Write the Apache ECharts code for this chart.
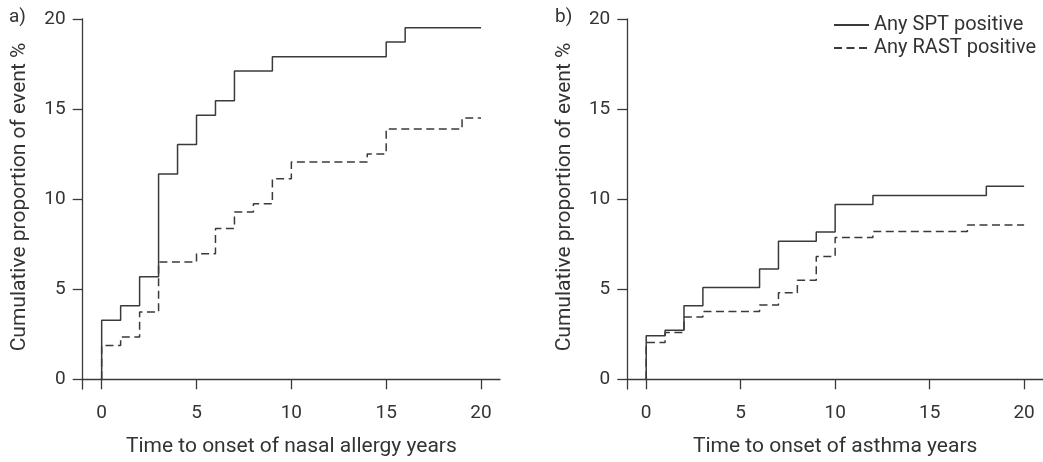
<!DOCTYPE html>
<html>
<head>
<meta charset="utf-8">
<script src="https://cdn.jsdelivr.net/npm/echarts@6/dist/echarts.min.js"></script>
<style>
html,body{margin:0;padding:0;background:#fff;}
#chart{width:1043px;height:462px;}
</style>
</head>
<body>
<div id="chart"></div>
<script>
// Panel a) nasal allergy
const aSptTimes = [0, 0, 1, 2, 3, 4, 5, 6, 7, 9, 15, 16, 20];
const aSptValues = [0, 3.27, 4.08, 5.69, 11.40, 13.03, 14.65, 15.46, 17.11, 17.91, 18.72, 19.52, 19.52];
const aRastTimes = [0, 0, 1, 2, 3, 5, 6, 7, 8, 9, 10, 14, 15, 19, 20];
const aRastValues = [0, 1.87, 2.35, 3.73, 6.51, 6.97, 8.37, 9.29, 9.74, 11.13, 12.06, 12.51, 13.90, 14.51, 14.51];
// Panel b) asthma
const bSptTimes = [0, 0, 1, 2, 3, 6, 7, 9, 10, 12, 18, 20];
const bSptValues = [0, 2.42, 2.72, 4.08, 5.10, 6.12, 7.66, 8.18, 9.70, 10.20, 10.72, 10.72];
const bRastTimes = [0, 0, 1, 2, 3, 6, 7, 8, 9, 10, 12, 17, 20];
const bRastValues = [0, 2.04, 2.60, 3.46, 3.76, 4.12, 4.80, 5.50, 6.82, 7.87, 8.21, 8.56, 8.56];

const xTicks = [0, 5, 10, 15, 20];
const yTicks = [0, 5, 10, 15, 20];
const seriesNames = ['Any SPT positive', 'Any RAST positive'];
const xTitles = ['Time to onset of nasal allergy years', 'Time to onset of asthma years'];
const yTitle = 'Cumulative proportion of event %';
const panelLabels = ['a)', 'b)'];

const FONT = 'Roboto';
const TXT = '#333';
const LINE = '#3a3a3a';

function pairs(t, v) { return t.map((x, i) => [x, v[i]]); }

function xAxis(i, title) {
  return {
    type: 'value', gridIndex: i, min: -1, max: 21,
    axisLine: { show: true, onZero: true, lineStyle: { color: LINE, width: 1.3 } },
    axisTick: { show: true, length: 10, customValues: xTicks, lineStyle: { color: LINE, width: 1.3 } },
    axisLabel: { customValues: xTicks, color: TXT, fontFamily: FONT, fontSize: 19, margin: 15 },
    splitLine: { show: false },
    name: title, nameLocation: 'middle', nameGap: 47,
    nameTextStyle: { color: TXT, fontFamily: FONT, fontSize: 21 }
  };
}
function yAxis(i) {
  return {
    type: 'value', gridIndex: i, min: -0.54, max: 20,
    axisLine: { show: true, onZero: false, lineStyle: { color: LINE, width: 1.3 } },
    axisTick: { show: true, length: 10, customValues: yTicks, lineStyle: { color: LINE, width: 1.3 } },
    axisLabel: { customValues: yTicks, color: TXT, fontFamily: FONT, fontSize: 19, margin: 17 },
    splitLine: { show: false },
    name: yTitle, nameLocation: 'middle', nameGap: 52, nameRotate: 90,
    nameTextStyle: { color: TXT, fontFamily: FONT, fontSize: 21, padding: [0, 0, 0, 14] }
  };
}
function stepSeries(name, idx, t, v, dashed) {
  return {
    name: name, type: 'line', step: 'end', xAxisIndex: idx, yAxisIndex: idx,
    data: pairs(t, v), symbol: 'none', showSymbol: false, silent: true,
    lineStyle: { color: LINE, width: 1.5, type: dashed ? [8, 4.5] : 'solid' },
    itemStyle: { color: LINE }
  };
}

const chart = echarts.init(document.getElementById('chart'), null, { renderer: 'canvas' });
chart.setOption({
  animation: false,
  backgroundColor: '#fff',
  grid: [
    { left: 82.7, right: 543, top: 19, bottom: 60.3 },
    { left: 627.3, right: -2.3, top: 19, bottom: 60.3 }
  ],
  xAxis: [xAxis(0, xTitles[0]), xAxis(1, xTitles[1])],
  yAxis: [yAxis(0), yAxis(1)],
  legend: {
    data: seriesNames, orient: 'vertical', left: 828, top: 10,
    itemWidth: 35, itemHeight: 14, itemGap: 3,
    itemStyle: { opacity: 0 },
    selectedMode: false,
    textStyle: { color: TXT, fontFamily: FONT, fontSize: 20, lineHeight: 20 }
  },
  graphic: [
    { type: 'text', left: 9, top: 8, style: { text: panelLabels[0], fill: TXT, font: '19px ' + FONT } },
    { type: 'text', left: 555, top: 8, style: { text: panelLabels[1], fill: TXT, font: '19px ' + FONT } }
  ],
  series: [
    stepSeries(seriesNames[0], 0, aSptTimes, aSptValues, false),
    stepSeries(seriesNames[1], 0, aRastTimes, aRastValues, true),
    stepSeries(seriesNames[0], 1, bSptTimes, bSptValues, false),
    stepSeries(seriesNames[1], 1, bRastTimes, bRastValues, true)
  ]
});
</script>
</body>
</html>
